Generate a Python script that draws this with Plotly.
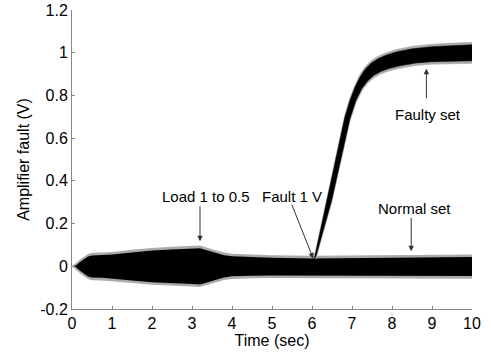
import plotly.graph_objects as go
import numpy as np

# ---- data ----
# Normal set: envelope of the oscillating signal (outer, incl. grey edge)
normal_t = [0, 0.1, 0.2, 0.4, 0.5, 0.75, 1.0, 1.5, 2.0, 2.5, 3.0, 3.2, 3.5, 3.8, 4.0, 4.5, 5.0, 6.0, 7.0, 8.0, 9.0, 10.0]
normal_upper = [0, 0.016, 0.032, 0.058, 0.063, 0.065, 0.067, 0.077, 0.086, 0.091, 0.095, 0.097, 0.08, 0.064, 0.059, 0.055, 0.052, 0.049, 0.051, 0.053, 0.054, 0.055]
normal_lower = [0, -0.016, -0.033, -0.06, -0.065, -0.066, -0.068, -0.078, -0.087, -0.092, -0.095, -0.097, -0.08, -0.064, -0.059, -0.056, -0.055, -0.053, -0.055, -0.056, -0.057, -0.058]

# Faulty set: upper and lower envelope edges
fault_upper_t = [6.05, 6.34, 6.6, 6.82, 6.95, 7.08, 7.2, 7.33, 7.48, 7.65, 7.85, 8.1, 8.5, 9.0, 9.5, 10.0]
fault_upper_v = [0.04, 0.296, 0.522, 0.709, 0.79, 0.852, 0.898, 0.935, 0.963, 0.984, 1.0, 1.015, 1.03, 1.04, 1.045, 1.049]
fault_lower_t = [6.1, 6.49, 6.76, 6.95, 7.1, 7.25, 7.4, 7.55, 7.72, 7.9, 8.2, 8.6, 9.0, 9.5, 10.0]
fault_lower_v = [0.035, 0.296, 0.522, 0.68, 0.765, 0.822, 0.858, 0.883, 0.9, 0.913, 0.927, 0.94, 0.946, 0.949, 0.95]

# annotations: label, text centre (t, v), arrow tail (t, v), arrow tip (t, v)
ann_labels = ["Load 1 to 0.5", "Fault 1 V", "Normal set", "Faulty set"]
ann_text_t = [3.35, 5.51, 8.55, 8.91]
ann_text_v = [0.327, 0.327, 0.27, 0.709]
ann_tail_t = [3.2, 5.48, 8.48, 8.86]
ann_tail_v = [0.288, 0.296, 0.234, 0.779]
ann_tip_t = [3.2, 6.03, 8.48, 8.86]
ann_tip_v = [0.117, 0.037, 0.07, 0.925]

x_ticks = [0, 1, 2, 3, 4, 5, 6, 7, 8, 9, 10]
y_ticks = [-0.2, 0, 0.2, 0.4, 0.6, 0.8, 1.0, 1.2]
y_tick_text = ["-0.2", "0", "0.2", "0.4", "0.6", "0.8", "1", "1.2"]

GREY = "#aaaaaa"
BLACK = "#000000"
EDGE = 0.012  # grey edge thickness (in data units)
FONT = "Liberation Sans"


def band(t_up, v_up, t_lo, v_lo, shrink):
    up = np.array(v_up, float) - shrink
    lo = np.array(v_lo, float) + shrink
    xs = list(t_up) + list(t_lo)[::-1]
    ys = list(up) + list(lo)[::-1]
    return xs, ys


fig = go.Figure()

# normal set
for col, shr in [(GREY, 0.0), (BLACK, EDGE)]:
    lo = np.minimum(np.array(normal_lower) + shr, 0)
    up = np.maximum(np.array(normal_upper) - shr, 0)
    xs = list(normal_t) + list(normal_t)[::-1]
    ys = list(up) + list(lo)[::-1]
    fig.add_trace(go.Scatter(x=xs, y=ys, fill="toself", fillcolor=col,
                             mode="lines", line=dict(width=0, color=col),
                             hoverinfo="skip", showlegend=False))

# faulty set
for col, shr in [(GREY, 0.0), (BLACK, EDGE)]:
    xs, ys = band(fault_upper_t, fault_upper_v, fault_lower_t, fault_lower_v, shr)
    fig.add_trace(go.Scatter(x=xs, y=ys, fill="toself", fillcolor=col,
                             mode="lines", line=dict(width=0.5, color=col),
                             hoverinfo="skip", showlegend=False))

annotations = []
for i, lab in enumerate(ann_labels):
    annotations.append(dict(x=ann_text_t[i], y=ann_text_v[i], xref="x", yref="y",
                            text=lab, showarrow=False,
                            font=dict(family=FONT, size=15, color="black")))
    annotations.append(dict(x=ann_tip_t[i], y=ann_tip_v[i], xref="x", yref="y",
                            ax=ann_tail_t[i], ay=ann_tail_v[i], axref="x", ayref="y",
                            text="", showarrow=True, arrowhead=2, arrowsize=1.1,
                            arrowwidth=1, arrowcolor="#333333", standoff=0, startstandoff=0))

fig.update_layout(
    width=491, height=352,
    margin=dict(l=72, r=19, t=10, b=43),
    paper_bgcolor="white", plot_bgcolor="white",
    font=dict(family=FONT, size=16, color="black"),
    annotations=annotations,
    showlegend=False,
)
fig.update_xaxes(range=[0, 10], tickvals=x_ticks, ticks="inside", ticklen=3,
                 tickcolor="#888888", showline=True, linecolor="#888888", linewidth=1,
                 showgrid=False, zeroline=False, tickfont=dict(size=16), automargin=False,
                 title=dict(text="Time (sec)", font=dict(size=16), standoff=0))
fig.update_yaxes(range=[-0.2, 1.2], tickvals=y_ticks, ticktext=y_tick_text,
                 ticks="inside", ticklen=3, automargin=False,
                 tickcolor="#888888", showline=True, linecolor="#888888", linewidth=1,
                 showgrid=False, zeroline=False, tickfont=dict(size=16),
                 title=dict(text="Amplifier fault (V)", font=dict(size=16), standoff=6))

fig.write_html("out.html", config={"displayModeBar": False},
               post_script="document.body.style.margin='0';")
